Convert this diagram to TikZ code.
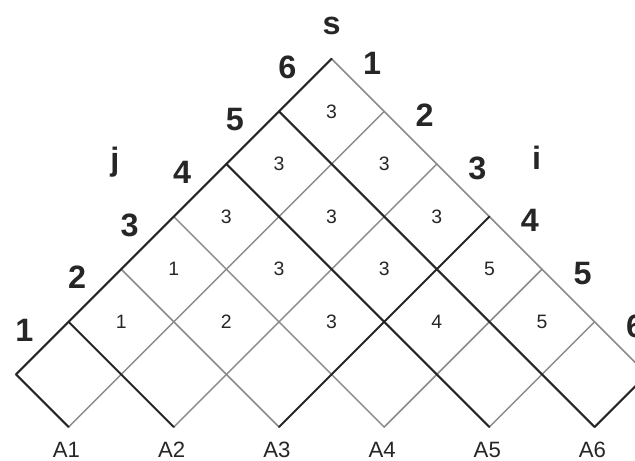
\documentclass[tikz,border=0pt]{standalone}
\usepackage{fontspec}
\setmainfont{Liberation Sans}
\usetikzlibrary{positioning}
\definecolor{gridgray}{RGB}{138,138,138}
\definecolor{inkdark}{RGB}{38,38,38}
\tikzset{
  thinrule/.style={draw=gridgray, line width=0.8pt},
  thickrule/.style={draw=inkdark, line width=1.1pt},
  edgelabel/.style={font=\fontsize{17.5}{20}\selectfont\bfseries, text=inkdark},
  cellval/.style={font=\fontsize{10.5}{12}\selectfont, text=inkdark},
  leaflabel/.style={font=\fontsize{12}{14}\selectfont, text=inkdark}
}

\begin{document}
\begin{tikzpicture}[line cap=round, line join=round]
  \clip (-0.304,-0.646) rectangle (11.768,8.118);
  \foreach \c in {1,3,7,9} \draw[thinrule] (\c,0) -- ({(13+\c)/2},{(13-\c)/2});
  \foreach \d in {5,7} \draw[thinrule] ({(\d-1)/2},{(\d+1)/2}) -- (\d,0);
  \draw[thinrule] (6,7) -- (12,1);
  \draw[thickrule] (0,1) -- (6,7);
  \foreach \c in {5,11} \draw[thickrule] (\c,0) -- ({(13+\c)/2},{(13-\c)/2});
  \foreach \d in {1,3,9,11} \draw[thickrule] ({(\d-1)/2},{(\d+1)/2}) -- (\d,0);
  \foreach \r/\vals in {1/{1,2,3,4,5}, 2/{1,3,3,5}, 3/{3,3,3}, 4/{3,3}, 5/{3}}
    \foreach \v [count=\p from 0] in \vals
      \node[cellval] (cell-\r-\p) at ({1+2*\p+\r},{1+\r}) {\v};
  \foreach \k in {1,...,6} {
    \node[edgelabel] (j-\k) at ({\k-0.84},{\k+0.84}) {\k};
    \node[edgelabel] (i-\k) at ({5.77+\k},{7.92-\k}) {\k};
    \node[leaflabel] (A\k) at ({2*\k-1.04},-0.44) {A\k};
  }
  \node[edgelabel] (s) at (6,7.62) {s};
  \node[edgelabel] (jlab) at (1.88,5.04) {j};
  \node[edgelabel] (ilab) at (9.9,5.11) {i};
\end{tikzpicture}
\end{document}
